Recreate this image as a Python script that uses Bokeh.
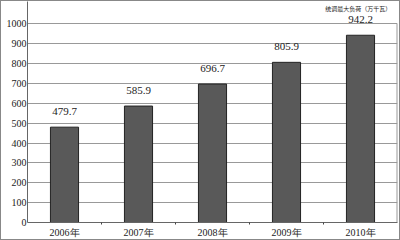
from bokeh.plotting import figure
from bokeh.models import ColumnDataSource, Label, FixedTicker
from bokeh.embed import file_html
from bokeh.resources import INLINE

years = ["2006年", "2007年", "2008年", "2009年", "2010年"]
values = [479.7, 585.9, 696.7, 805.9, 942.2]
value_labels = ["479.7", "585.9", "696.7", "805.9", "942.2"]
y_ticks = [0, 100, 200, 300, 400, 500, 600, 700, 800, 900, 1000]
unit_title = "统调最大负荷（万千瓦）"

n = len(years)
xs = [i + 0.5 for i in range(n)]
src = ColumnDataSource(dict(x=xs, top=values, lab=value_labels))

p = figure(x_range=(0, n), y_range=(0, 1112), width=400, height=240,
           output_backend="svg", toolbar_location=None,
           min_border_left=26, min_border_right=4, min_border_top=0, min_border_bottom=19)
p.background_fill_color = "white"
p.border_fill_color = "white"
p.outline_line_color = None

p.vbar(x="x", top="top", width=0.38, source=src, fill_color="#595959",
       line_color="#222222", line_width=1)

# right edge of the plotting area
p.segment(x0=[n], y0=[0], x1=[n], y1=[1000], line_color="#999999", line_width=2)

p.text(x="x", y="top", text="lab", source=src, y_offset=-16,
       text_align="center", text_baseline="middle",
       text_font="Liberation Serif", text_font_size="11px", text_color="#222222")

p.xgrid.grid_line_color = None
p.ygrid.grid_line_color = "#999999"
p.ygrid.grid_line_width = 1
p.yaxis.ticker = FixedTicker(ticks=y_ticks)
p.yaxis.axis_line_color = "#666666"
p.yaxis.major_tick_line_color = None
p.yaxis.major_tick_out = 0
p.yaxis.major_tick_in = 0
p.yaxis.minor_tick_line_color = None
p.yaxis.major_label_text_font = "Liberation Serif"
p.yaxis.major_label_text_font_size = "10px"
p.yaxis.major_label_text_color = "#222222"
p.yaxis.major_label_standoff = 1

p.xaxis.ticker = FixedTicker(ticks=xs, minor_ticks=[1, 2, 3, 4])
p.xaxis.major_label_overrides = {x: y for x, y in zip(xs, years)}
p.xaxis.axis_line_color = "#666666"
p.xaxis.major_tick_line_color = None
p.xaxis.major_tick_out = 0
p.xaxis.major_tick_in = 0
p.xaxis.minor_tick_line_color = "#444444"
p.xaxis.minor_tick_out = 2
p.xaxis.minor_tick_in = 0
p.xaxis.major_label_text_font = "Liberation Serif"
p.xaxis.major_label_text_font_size = "10px"
p.xaxis.major_label_text_color = "#222222"
p.xaxis.major_label_standoff = 2

p.add_layout(Label(x=n - 0.53, y=1000, y_offset=15, text=unit_title, text_align="center",
                   text_baseline="middle", text_font="Noto Sans CJK SC",
                   text_font_size="6px", text_color="#222222"))

p.styles = {"border": "1px solid #888888", "box-sizing": "border-box"}

open("out.html", "w").write(file_html(p, INLINE))
